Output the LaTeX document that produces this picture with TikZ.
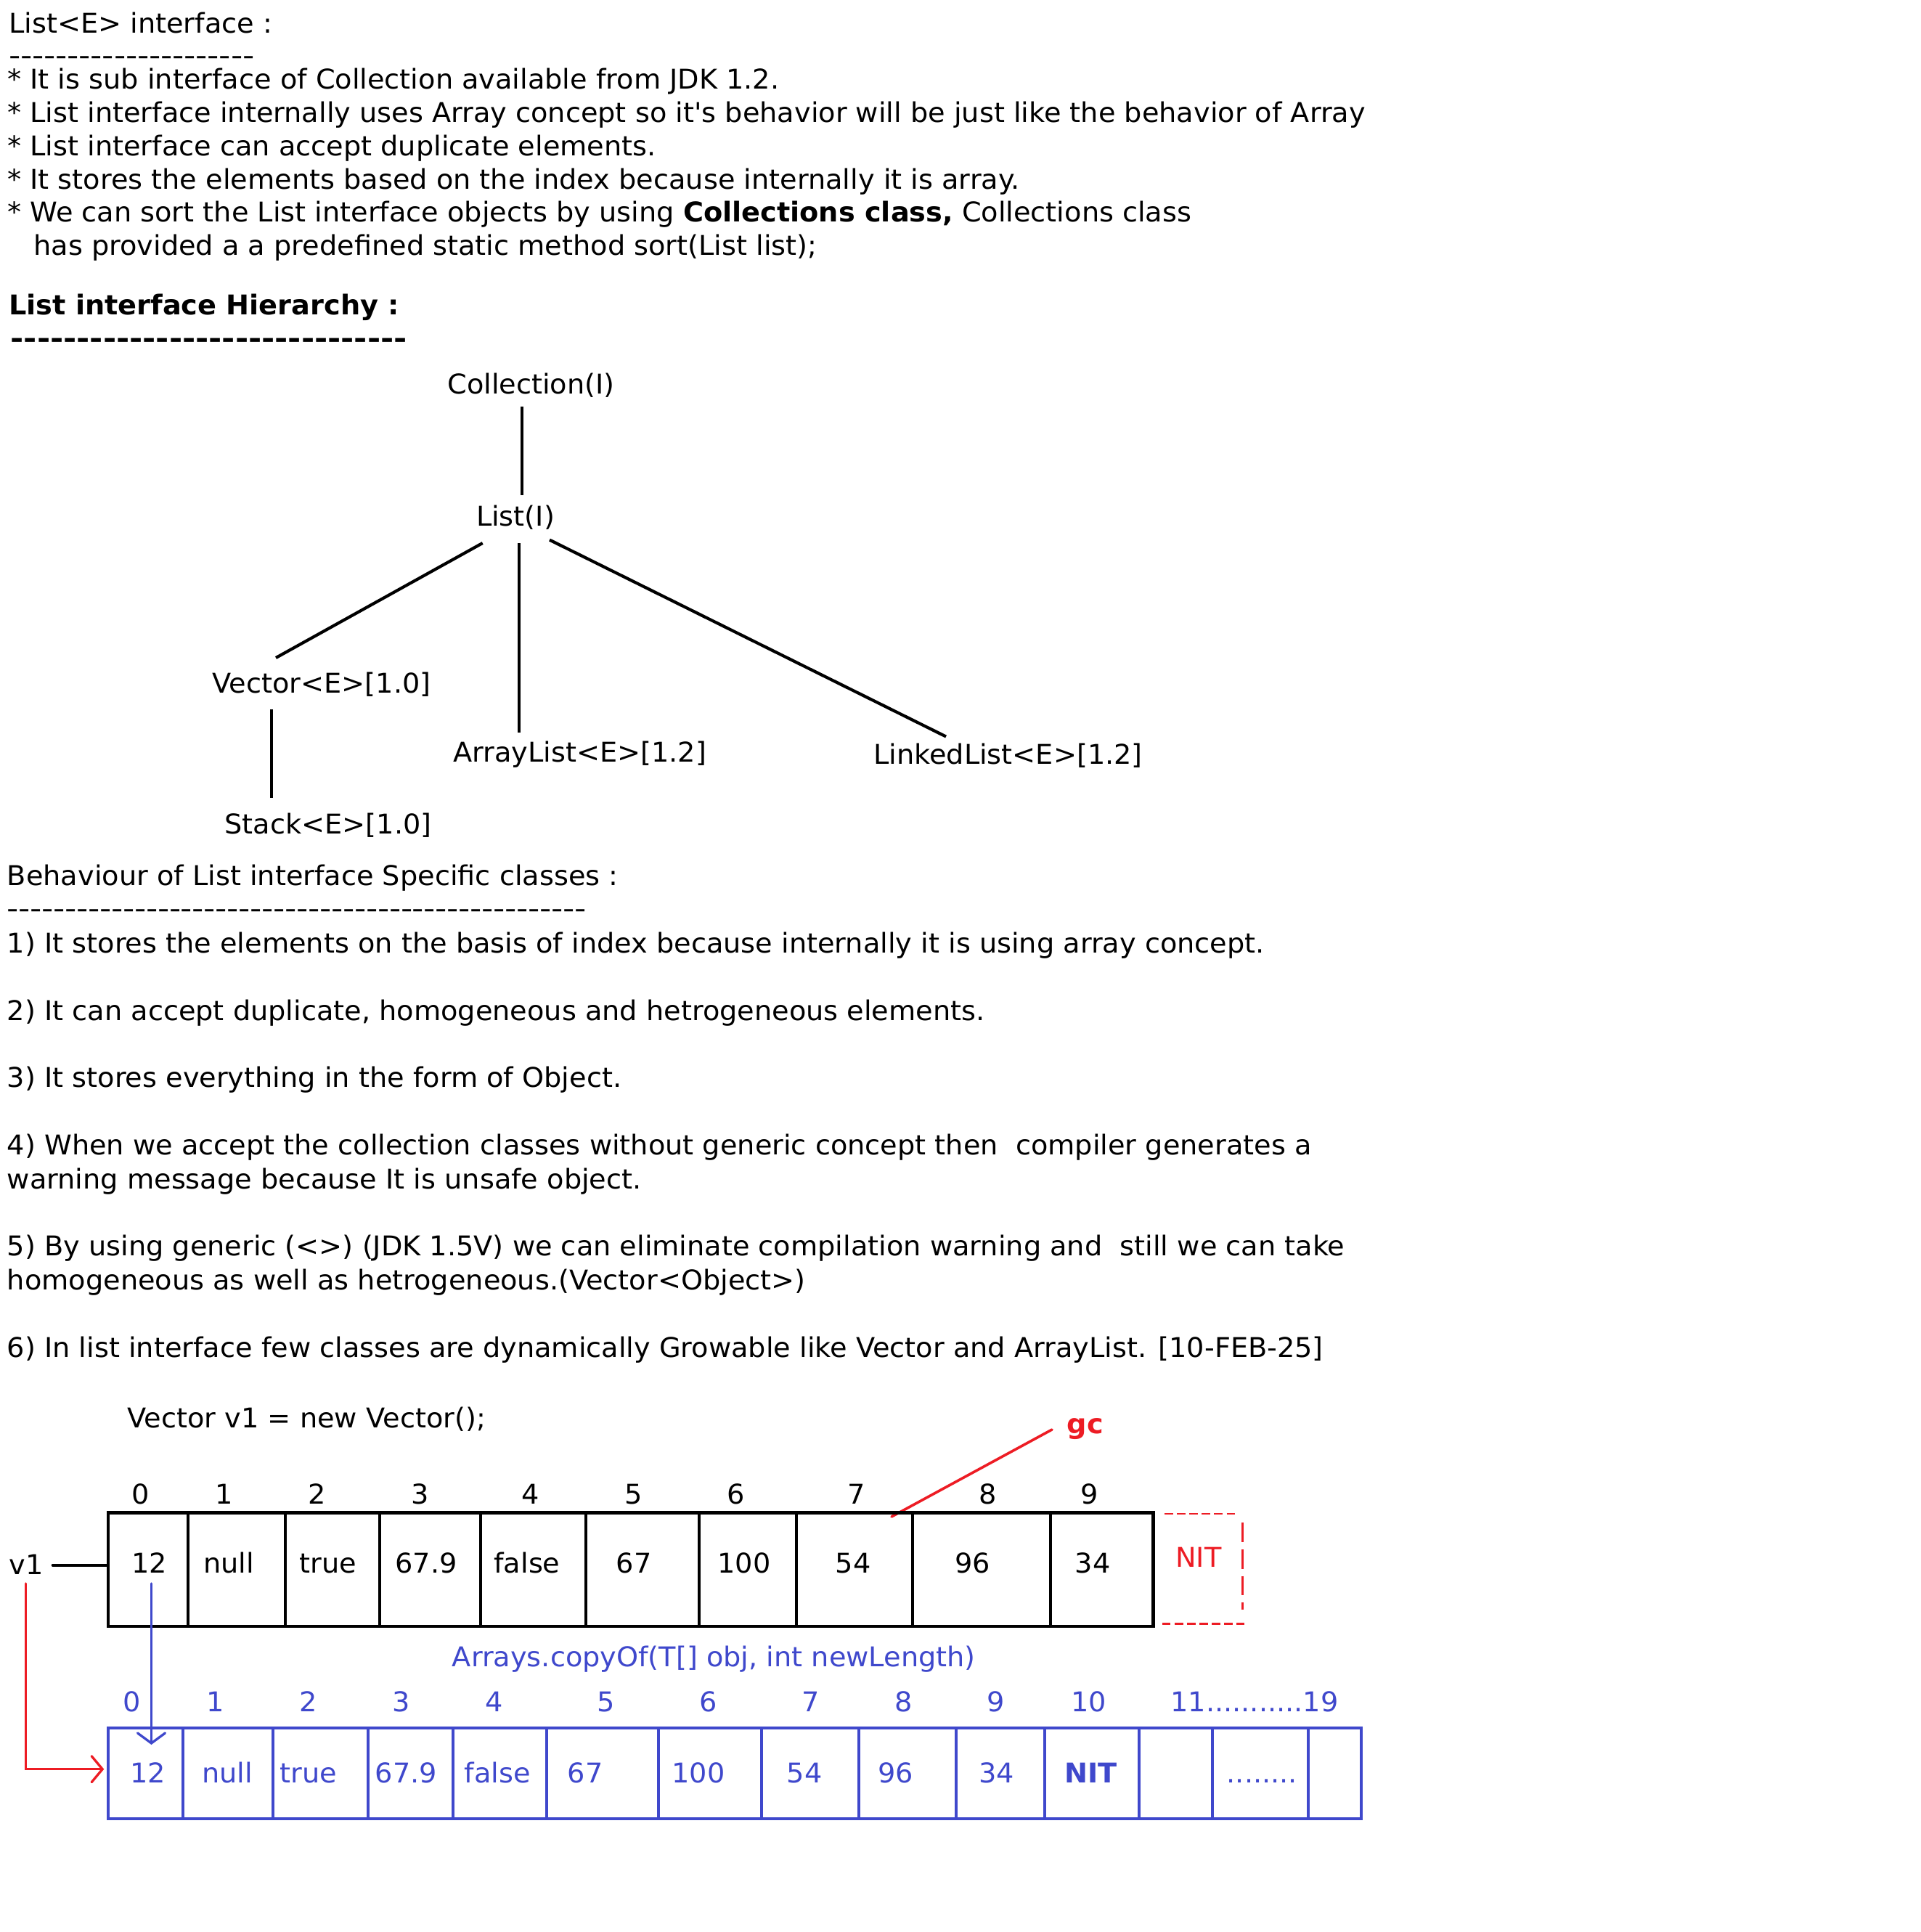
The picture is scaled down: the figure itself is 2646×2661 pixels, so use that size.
\documentclass[tikz,border=0pt]{standalone}
\usepackage{fontspec}
\usepackage{graphicx}
\setmainfont{DejaVu Sans}[FakeStretch=1.02]
\newfontfamily\apf{DejaVu Sans}[FakeStretch=1.02]
\usetikzlibrary{arrows.meta}
\definecolor{pblue}{HTML}{3F48CC}
\definecolor{pred}{HTML}{ED1C24}
\newcommand\fs{\fontsize{37.5}{45}\selectfont}
\newcommand\hyb{\makebox[16.1pt]{\scalebox{1.18}[1]{-}}}
\newcommand\hybb{\makebox[18.2pt]{\scalebox{1.15}[1]{-}}}
\newcommand\hyrep[2]{\ifnum#1>0 #2\expandafter\hyrep\expandafter{\the\numexpr#1-1\relax}{#2}\fi}
\tikzset{
  txt/.style={anchor=base west, inner sep=0pt, font=\fs},
  ctr/.style={anchor=base, inner sep=0pt, font=\fs},
  tree/.style={line width=4.2pt},
  blk/.style={line width=4.7pt},
  blkdiv/.style={line width=4pt},
  blu/.style={line width=4pt, draw=pblue},
  reddash/.style={line width=2.7pt, draw=pred},
}
\begin{document}
\begin{tikzpicture}[x=1pt,y=-1pt]
\fill[white] (0,0) rectangle (2646,2661);
\useasboundingbox (0,0) rectangle (2646,2661);

% ---------- header ----------
\node[txt] (t0) at (12,45) {List<E> interface :};
\node[txt] (t0d) at (12,89.3) {\hyrep{21}{\hyb}};
\node[txt] (t1) at (10,122.7) {* It is sub interface of Collection available from JDK 1.2.};
\node[txt] (t2) at (10,168.5) {* List interface internally uses Array concept so it{\apf'}s behavior will be just like the behavior of Array};
\node[txt] (t3) at (10,214.3) {* List interface can accept duplicate elements.};
\node[txt] (t4) at (10,260.1) {* It stores the elements based on the index because internally it is array.};
\node[txt] (t5) at (10,305.9) {* We can sort the List interface objects by using \textbf{Collections class,} Collections class};
\node[txt] (t6) at (46.3,351.7) {has provided a a predefined static method sort(List list);};
\node[txt,font=\fs\bfseries] (h0) at (12,433.3) {List interface Hierarchy :};
\node[txt,font=\fs\bfseries] (h0d) at (14.6,479.6) {\hyrep{30}{\hybb}};

% ---------- hierarchy ----------
\node[ctr] (coll) at (731.5,542) {Collection(I)};
\node[ctr] (list) at (710,724) {List(I)};
\node[ctr] (vec) at (443,954) {Vector<E>[1.0]};
\node[ctr] (stk) at (452,1148) {Stack<E>[1.0]};
\node[ctr] (arr) at (798.5,1049) {ArrayList<E>[1.2]};
\node[ctr] (lnk) at (1388.5,1052) {LinkedList<E>[1.2]};
\coordinate (c1) at (718.6,560);  \coordinate (c2) at (718.6,682);
\coordinate (l1) at (664.7,748);  \coordinate (v1t) at (380,906);
\coordinate (l2) at (715,748);    \coordinate (a1t) at (715,1009);
\coordinate (l3) at (757,743.6);  \coordinate (k1t) at (1303,1014.5);
\coordinate (vb) at (374,977);    \coordinate (st) at (374,1099);
\draw[tree] (c1) -- (c2);
\draw[tree] (l1) -- (v1t);
\draw[tree] (l2) -- (a1t);
\draw[tree] (l3) -- (k1t);
\draw[tree] (vb) -- (st);

% ---------- behaviour ----------
\node[txt] (b0) at (9.7,1219.5) {Behaviour of List interface Specific classes :};
\node[txt] (b0d) at (9.7,1264) {\hyrep{50}{\makebox[15.95pt]{\scalebox{1.18}[1]{-}}}};
\node[txt] (b1) at (9.7,1312.3) {1) It stores the elements on the basis of index because internally it is using array concept.};
\node[txt] (b2) at (9.7,1405.1) {2) It can accept duplicate, homogeneous and hetrogeneous elements.};
\node[txt] (b3) at (9.7,1497.9) {3) It stores everything in the form of Object.};
\node[txt] (b4) at (9.7,1590.7) {4) When we accept the collection classes without generic concept then\ \ compiler generates a};
\node[txt] (b4b) at (9.7,1637.1) {warning message because It is unsafe object.};
\node[txt] (b5) at (9.7,1729.9) {5) By using generic (<>) (JDK 1.5V) we can eliminate compilation warning and\ \ still we can take};
\node[txt] (b5b) at (9.7,1776.3) {homogeneous as well as hetrogeneous.(Vector<Object>)};
\node[txt] (b6) at (9.7,1869.1) {6) In list interface few classes are dynamically Growable like Vector and ArrayList. [10-FEB-25]};

% ---------- vector array ----------
\node[txt] (vdecl) at (175.5,1966.4) {Vector v1 = new Vector();};
\node[ctr,text=pred,font=\fs\bfseries] (gc) at (1495,1974) {gc};
\coordinate (gcs) at (1449,1969);
\coordinate (gce) at (1228,2089);
\draw[line width=3.6pt, pred, line cap=round] (gcs) -- (gce);

\foreach \x/\t [count=\i from 0] in {193.7/0,309/1,436.7/2,578.4/3,731/4,872.2/5,1013.6/6,1180/7,1360.4/8,1500.8/9}
  \node[ctr] (bi\i) at (\x,2071) {\t};
\foreach \x/\t [count=\i from 0] in {205.7/12,315/null,452/true,587/67.9,726/false,873/67,1025/100,1175.2/54,1339.8/96,1505/34}
  \node[ctr] (bc\i) at (\x,2166) {\t};
\foreach \x in {259.3,393.3,522.7,662,807.4,963.3,1097,1257,1446.5}
  \draw[blkdiv] (\x,2083.7) -- (\x,2240);
\draw[blk] (149,2083.7) rectangle (1588.5,2240);
\coordinate (boxL) at (149,2155.7);

\node[ctr] (v1) at (36,2168.3) {v1};
\coordinate (v1r) at (72.7,2155.7);
\draw[line width=4pt, line cap=round] (v1r) -- (boxL);

% NIT dashed
\node[ctr,text=pred] (nit) at (1650.8,2158.3) {NIT};
\coordinate (n1) at (1604,2085);    \coordinate (n2) at (1700.7,2085);
\coordinate (n3) at (1711.3,2097.3); \coordinate (n4) at (1711.3,2217.3);
\coordinate (n5) at (1600.7,2236.7); \coordinate (n6) at (1714.3,2236.7);
\draw[reddash, dash pattern=on 11.7pt off 5.4pt] (n1) -- (n2);
\draw[reddash, dash pattern=on 26.7pt off 10pt] (n3) -- (n4);
\draw[reddash, dash pattern=on 11.7pt off 5.4pt] (n5) -- (n6);

% ---------- copy ----------
\node[ctr,text=pblue] (copy) at (983.3,2295) {Arrays.copyOf(T[] obj, int newLength)};
\foreach \x/\t [count=\i from 0] in {181.7/0,296.7/1,425/2,553/3,680.2/4,834.7/5,975.4/6,1116.5/7,1244.8/8,1371.9/9,1499.6/10}
  \node[ctr,text=pblue] (ui\i) at (\x,2357.7) {\t};
\node[ctr,text=pblue] (uirest) at (1728,2357.7) {11...........19};
\foreach \x/\t [count=\i from 0] in {204/12,313.3/null,424.7/true,559.4/67.9,685.4/false,806/67,962/100,1108.3/54,1233.6/96,1372.8/34}
  \node[ctr,text=pblue] (uc\i) at (\x,2455) {\t};
\node[ctr,text=pblue,font=\fs\bfseries] (ucnit) at (1502.4,2455) {NIT};
\node[ctr,text=pblue] (ucdots) at (1738.3,2455) {........};
\foreach \x in {251.7,376,507.3,623.9,752.9,907.4,1048.7,1183,1317.4,1439,1569.2,1669.5,1802}
  \draw[blu] (\x,2379.7) -- (\x,2505.3);
\draw[blu] (148.7,2379.7) rectangle (1875.3,2505.3);

% arrows
\coordinate (bs) at (208.5,2181);
\coordinate (be) at (208.5,2403);
\draw[line width=3.3pt, pblue, line cap=round, -{Straight Barb[length=14pt,width=38pt,line cap=round]}] (bs) -- (be);
\coordinate (rs) at (35.3,2181);
\coordinate (rc) at (35.3,2436.7);
\coordinate (re) at (143.3,2436.7);
\draw[line width=3.3pt, pred, line cap=round, -{Straight Barb[length=15pt,width=36pt,line cap=round]}] (rs) -- (rc) -- (re);
\end{tikzpicture}
\end{document}
